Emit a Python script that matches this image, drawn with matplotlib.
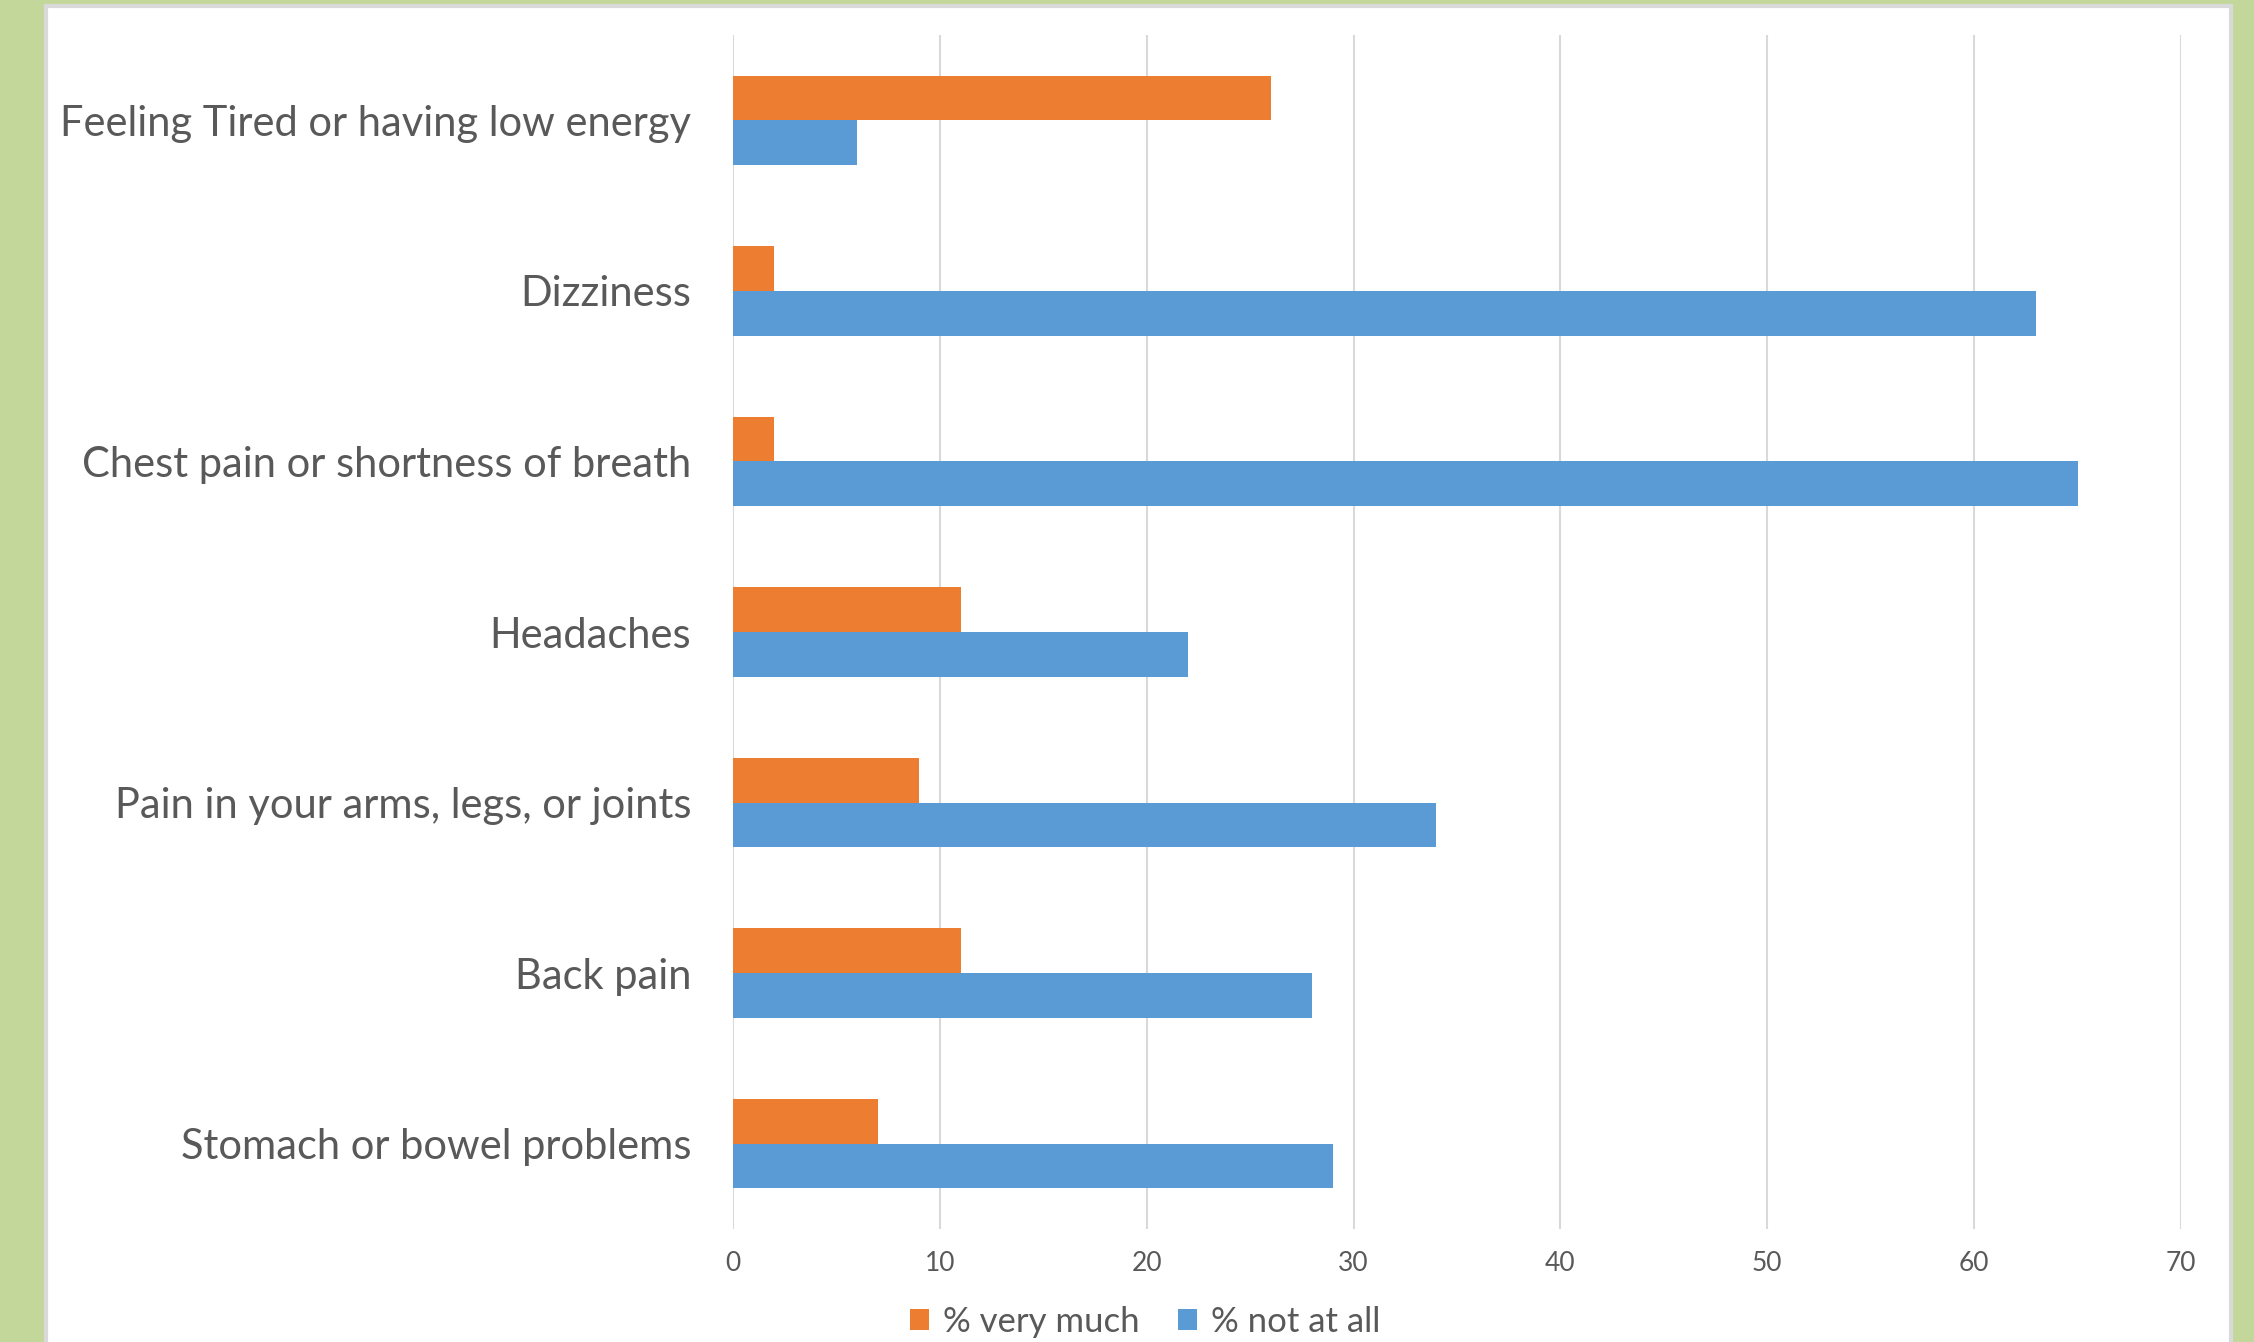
import numpy as np
import matplotlib.pyplot as plt
from matplotlib.patches import Rectangle

# symptom categories, top to bottom
categories = ["Feeling Tired or having low energy", "Dizziness",
              "Chest pain or shortness of breath", "Headaches",
              "Pain in your arms, legs, or joints", "Back pain",
              "Stomach or bowel problems"]
very_much = [26, 2, 2, 11, 9, 11, 7]
not_at_all = [6, 63, 65, 22, 34, 28, 29]
xticks = [0, 10, 20, 30, 40, 50, 60, 70]

orange = "#ED7D31"
blue = "#5B9BD5"
grey = "#595959"

plt.rcParams['font.family'] = ['Lato', 'DejaVu Sans']

fig = plt.figure(figsize=(22.54, 13.42), dpi=100)
fig.patch.set_facecolor("#C4D79B")
# white panel with a thin grey edge
fig.patches.append(Rectangle((46/2254, -0.01), (2231-46)/2254, 1.01 - 6/1342,
                             transform=fig.transFigure, facecolor="white",
                             edgecolor="#D9D9D9", linewidth=3, zorder=-5))

ax = fig.add_axes([733/2254, 1-1229/1342, (2181-733)/2254, (1229-35)/1342])
ax.set_facecolor("none")

y = np.arange(len(categories))
h = 0.262
ax.barh(y - h/2, very_much, height=h, color=orange, label="% very much", zorder=2)
ax.barh(y + h/2, not_at_all, height=h, color=blue, label="% not at all", zorder=2)

ax.set_xlim(0, 70)
ax.set_ylim(len(categories) - 0.5, -0.5)
ax.set_xticks(xticks)
ax.set_yticks(y)
ax.set_yticklabels(categories, fontsize=30, color=grey)
ax.tick_params(axis='y', length=0, pad=30)
ax.tick_params(axis='x', length=0, pad=16, labelsize=19, labelcolor=grey)
ax.grid(axis='x', color="#D9D9D9", linewidth=1.5, zorder=0)
for s in ax.spines.values():
    s.set_visible(False)

fig.legend(loc='center', bbox_to_anchor=(0.508, 0.015), ncol=2, frameon=False,
           fontsize=25, labelcolor=grey, handlelength=0.55, handleheight=0.55,
           handletextpad=0.4, columnspacing=1.1)

fig.savefig("out.png", dpi=100)
